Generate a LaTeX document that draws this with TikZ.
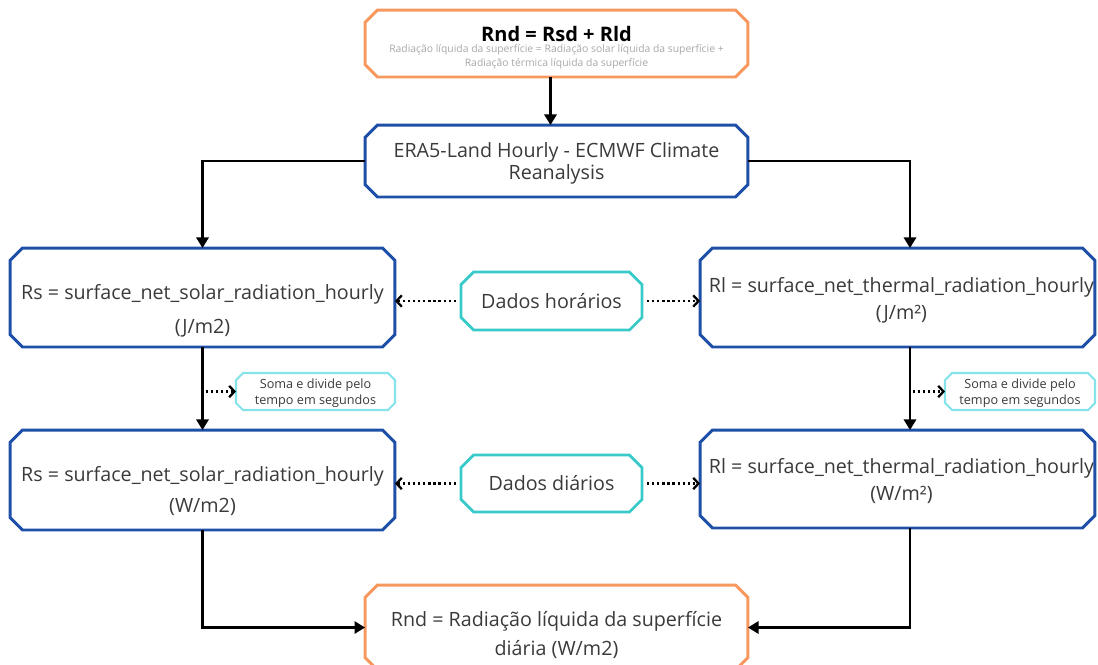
\documentclass[tikz,border=0pt]{standalone}
\usepackage{fontspec}
\setmainfont{Open Sans}
\usetikzlibrary{arrows.meta}
\definecolor{cOrange}{HTML}{F7995E}
\definecolor{cBlue}{HTML}{1F50A8}
\definecolor{cTeal}{HTML}{38C9C9}
\definecolor{cCyan}{HTML}{86E3EA}
\definecolor{cText}{HTML}{3A3A3A}
\definecolor{cSub}{HTML}{A8A8A8}
% two centred lines: #1, #2, extra gap #3, vertical shift #4 (box keeps its size)
\newcommand\twoline[4]{\raisebox{#4}[\height][\depth]{\begin{tabular}{@{}c@{}}#1\\[#3]#2\end{tabular}}}
% chamfered outline around a named node
\newcommand\chamf[3]{\draw[#3] ([xshift=#2]#1.north west) -- ([xshift=-#2]#1.north east)
  -- ([yshift=-#2]#1.north east) -- ([yshift=#2]#1.south east) -- ([xshift=-#2]#1.south east)
  -- ([xshift=#2]#1.south west) -- ([yshift=#2]#1.south west) -- ([yshift=-#2]#1.north west) -- cycle;}
\tikzset{
  box/.style={rectangle, inner sep=0pt, outer sep=0pt, text=cText, font=\fontsize{11.2}{13.4}\selectfont},
  smallbox/.style={box, font=\fontsize{7.2}{8.6}\selectfont},
  blueline/.style={draw=cBlue, line width=1.7pt},
  orangeline/.style={draw=cOrange, line width=1.7pt},
  tealline/.style={draw=cTeal, line width=1.6pt},
  cyanline/.style={draw=cCyan, line width=1.2pt},
  arr/.style={line width=1.2pt, -{Triangle[length=6pt,width=7pt]}},
  darr/.style={line width=1.4pt, dash pattern=on 1.3pt off 1.6pt, -{Straight Barb[length=3pt,width=6.5pt,line width=1.3pt]}},
}
\begin{document}
\begin{tikzpicture}[x=0.02cm,y=-0.02cm]
\useasboundingbox (0,0) rectangle (1098,664);
% nodes
\node[box, minimum width=7.66cm, minimum height=1.34cm] (top) at (556.5,43.5)
  {\raisebox{-0.11cm}[\height][\depth]{\begin{tabular}{@{}c@{}}{\fontsize{11.4}{13}\selectfont\bfseries\color{black}Rnd = Rsd + Rld}\\[-7pt]
   {\fontsize{5.9}{7}\selectfont\color{cSub}Radiação líquida da superfície = Radiação solar líquida da superfície +}\\[-5.5pt]
   {\fontsize{5.9}{7}\selectfont\color{cSub}Radiação térmica líquida da superfície}\end{tabular}}};
\node[box, minimum width=7.66cm, minimum height=1.44cm] (era) at (556.5,161)
  {\twoline{ERA5-Land Hourly - ECMWF Climate}{Reanalysis}{-1pt}{-0.06cm}};
\node[box, minimum width=7.7cm, minimum height=1.98cm] (rs1) at (202.5,297.5)
  {\twoline{Rs = surface\_net\_solar\_radiation\_hourly}{(J/m2)}{5.8pt}{-0.29cm}};
\node[box, minimum width=7.9cm, minimum height=1.98cm] (rl1) at (897.5,297.5)
  {\hspace*{0.16cm}\twoline{Rl = surface\_net\_thermal\_radiation\_hourly}{(J/m²)}{1.9pt}{-0.07cm}};
\node[box, minimum width=3.62cm, minimum height=1.16cm] (dh) at (551.5,301) {Dados horários};
\node[smallbox, minimum width=3.18cm, minimum height=0.74cm] (sl) at (315.5,391.5)
  {\twoline{Soma e divide pelo}{tempo em segundos}{1pt}{-0.04cm}};
\node[smallbox, minimum width=3.0cm, minimum height=0.74cm] (sr) at (1020,391.5)
  {\twoline{Soma e divide pelo}{tempo em segundos}{1pt}{-0.04cm}};
\node[box, minimum width=7.7cm, minimum height=2.0cm] (rs2) at (202.5,480)
  {\twoline{Rs = surface\_net\_solar\_radiation\_hourly}{(W/m2)}{4.1pt}{-0.24cm}};
\node[box, minimum width=7.9cm, minimum height=1.96cm] (rl2) at (897.5,479)
  {\hspace*{0.16cm}\twoline{Rl = surface\_net\_thermal\_radiation\_hourly}{(W/m²)}{1.9pt}{-0.07cm}};
\node[box, minimum width=3.62cm, minimum height=1.14cm] (dd) at (551.5,483.5) {Dados diários};
\node[box, minimum width=7.66cm, minimum height=1.7cm] (rnd) at (556.5,627.5)
  {\twoline{Rnd = Radiação líquida da superfície}{diária (W/m2)}{3pt}{-0.18cm}};
% outlines
\chamf{top}{0.25cm}{orangeline}
\chamf{rnd}{0.25cm}{orangeline}
\chamf{era}{0.25cm}{blueline}
\chamf{rs1}{0.25cm}{blueline}
\chamf{rl1}{0.25cm}{blueline}
\chamf{rs2}{0.25cm}{blueline}
\chamf{rl2}{0.25cm}{blueline}
\chamf{dh}{0.25cm}{tealline}
\chamf{dd}{0.25cm}{tealline}
\chamf{sl}{0.14cm}{cyanline}
\chamf{sr}{0.14cm}{cyanline}
% solid connectors
\draw[arr] ([xshift=-0.12cm]top.south) -- ([xshift=-0.12cm]era.north);
\draw[arr] (era.west) -| (rs1.north);
\draw[arr] (era.east) -| ([xshift=0.25cm]rl1.north);
\draw[arr] (rs1.south) -- (rs2.north);
\draw[arr] ([xshift=0.25cm]rl1.south) -- ([xshift=0.25cm]rl2.north);
\draw[arr] (rs2.south) |- (rnd.west);
\draw[arr] ([xshift=0.25cm]rl2.south) |- (rnd.east);
% dotted connectors
\draw[darr] ([xshift=-0.1cm]dh.west) -- (dh.west -| rs1.east);
\draw[darr] ([xshift=0.1cm]dh.east) -- (dh.east -| rl1.west);
\draw[darr] ([xshift=-0.1cm]dd.west) -- (dd.west -| rs2.east);
\draw[darr] ([xshift=0.1cm]dd.east) -- (dd.east -| rl2.west);
\coordinate (sls) at ([xshift=0.06cm]rs1.south |- sl.west);
\coordinate (srs) at ([xshift=0.3cm]rl1.south |- sr.west);
\draw[darr] (sls) -- (sl.west);
\draw[darr] (srs) -- (sr.west);
\end{tikzpicture}
\end{document}
